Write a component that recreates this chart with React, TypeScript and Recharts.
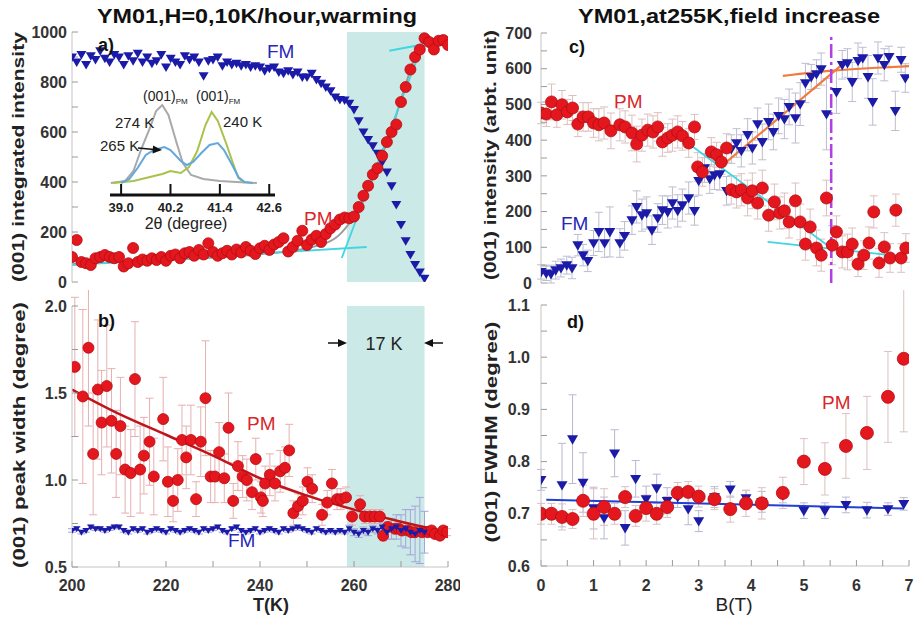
import React from 'react'
import {
  ComposedChart,
  Scatter,
  Line,
  XAxis,
  YAxis,
  ErrorBar,
  ReferenceArea,
  ReferenceLine,
} from 'recharts'

const FONT = '"Liberation Sans", Arial, Helvetica, sans-serif'
const RED = '#e3171d'
const RED_EDGE = '#b50d12'
const BLUE = '#1b1ba8'
const RED_ERR = '#e6b0b0'
const BLUE_ERR = '#a4a4da'
const CYAN = '#41d6e2'
const ORANGE = '#f07b3f'
const SHADE = '#cbe9e6'
const FRAME = '#c4c4c4'
const TICK = '#9a9a9a'
const LABEL_BLUE = '#2626b8'
const LABEL_RED = '#d9252b'

// ---- a) integrated intensity vs T ----
const aTempFM = [
  200, 201, 202, 203, 204, 205, 206, 207, 208, 209, 210, 211, 212, 213, 214, 215, 216, 217, 218, 219,
  220, 221, 222, 223, 224, 225, 226, 227, 228, 229, 230, 231, 232, 233, 234, 235, 236, 237, 238, 239,
  240, 241, 242, 243, 244, 245, 246, 247, 248, 249, 250, 251, 252, 253, 254, 255, 256, 257, 258, 259,
  260, 261, 262, 263, 264, 265, 266, 267, 268, 269, 270, 271, 272, 273, 274, 275,
]
const aIntFM = [
  900, 880, 910, 870, 905, 890, 925, 895, 880, 910, 900, 870, 905, 885, 915, 880, 900, 875, 885, 910,
  860, 895, 880, 870, 905, 890, 900, 880, 825, 885, 890, 900, 865, 880, 870, 875, 865, 870, 860, 865,
  860, 845, 855, 860, 840, 835, 845, 830, 840, 820, 820, 835, 810, 795, 780, 765, 740, 730, 728, 715,
  690, 645, 600, 570, 545, 515, 480, 440, 385, 310, 230, 165, 110, 70, 40, 15,
]
const aTempPM = [
  200, 201, 202, 203, 204, 205, 206, 207, 208, 209, 210, 211, 212, 213, 214, 215, 216, 217, 218, 219,
  220, 221, 222, 223, 224, 225, 226, 227, 228, 229, 230, 231, 232, 233, 234, 235, 236, 237, 238, 239,
  240, 241, 242, 243, 244, 245, 246, 247, 248, 249, 250, 251, 252, 253, 254, 255, 256, 257, 258, 259,
  260, 261, 262, 263, 264, 265, 266, 267, 268, 269, 270, 271, 272, 273, 274, 275, 276, 277, 278, 279, 280,
]
const aIntPM = [
  100, 168, 80, 75, 68, 95, 100, 108, 100, 95, 100, 62, 75, 136, 80, 90, 85, 95, 88, 100,
  85, 105, 110, 95, 115, 120, 105, 128, 110, 155, 120, 105, 115, 125, 110, 130, 118, 140, 125, 112,
  135, 145, 128, 150, 160, 175, 122, 140, 165, 205, 148, 170, 185, 160, 192, 215, 230, 250, 258, 255,
  262, 300, 345, 385, 430, 455, 505, 560, 600, 630, 720, 780, 850, 900, 930, 975, 960, 930, 965, 968, 948,
]
const aGrayT = [200, 220, 240, 250, 256, 259, 262, 265, 268, 271, 273, 275, 280]
const aGrayI = [72, 88, 112, 135, 175, 235, 330, 460, 610, 790, 900, 945, 955]
const aCyanLowT = [200, 262.7]
const aCyanLowI = [68, 140]
const aCyanSteepT = [257.4, 274.7]
const aCyanSteepI = [96, 956]
const aCyanTopT = [267.5, 276]
const aCyanTopI = [925, 955]
const shadeFrom = 258.5
const shadeTo = 275

// inset: peak profiles vs 2θ
const insetTicks = [39.0, 40.2, 41.4, 42.6]
const inset274X = [38.75, 39.1, 39.3, 39.5, 39.7, 39.85, 40.0, 40.15, 40.35, 40.5, 40.7, 41.0, 41.4, 41.8, 42.3]
const inset274Y = [0, 2, 12, 35, 55, 72, 78, 68, 40, 20, 8, 4, 2, 1, 0]
const inset265X = [39.0, 39.2, 39.4, 39.6, 39.8, 40.05, 40.2, 40.45, 40.6, 40.75, 40.95, 41.15, 41.35, 41.5, 41.7, 41.85, 42.0, 42.2]
const inset265Y = [0, 4, 15, 28, 33, 36, 33, 22, 18, 21, 30, 38, 40, 33, 18, 6, 1, 0]
const inset240X = [38.8, 39.3, 39.7, 40.0, 40.2, 40.45, 40.65, 40.85, 41.05, 41.2, 41.35, 41.55, 41.7, 41.85, 42.0]
const inset240Y = [0, 2, 6, 9, 12, 10, 16, 32, 58, 71, 62, 40, 22, 5, 0]

// ---- b) peak width vs T ----
const bTempPM = [
  200.6, 202.3, 203.5, 204.5, 205.5, 206.3, 207.4, 208.4, 209.4, 210.3, 211.3, 212.5, 213.4, 214.5, 215.3,
  216.5, 217.4, 219.4, 220.4, 221.5, 222.5, 223.4, 224.3, 225.3, 226.4, 227.4, 228.4, 229.5, 230.4, 231.3,
  232.4, 233.3, 234.3, 235.3, 236.3, 237.2, 238.3, 239.1, 240.2, 240.6, 241.1, 242.1, 243.2, 244.3, 245.3,
  246.2, 247.1, 248.1, 249.1, 250.1, 251.1, 253.2, 254.3, 255.3, 256.4, 257.2, 258.3, 259.6, 261.3, 262.3,
  263.4, 264.4, 265.5, 266.2, 267.2, 268.7, 269.5, 270.2, 271.5, 272.2, 273.0, 274.5, 275.7, 276.5, 277.2,
  278.3, 279.0, 279.8,
]
const bWidthPM = [
  1.65, 1.48, 1.76, 1.15, 1.52, 1.33, 1.54, 1.34, 1.15, 1.31, 1.06, 1.04, 1.58, 1.06, 1.14,
  1.22, 1.02, 1.35, 0.99, 0.88, 1.0, 1.23, 1.13, 1.23, 0.89, 1.22, 1.47, 1.02, 1.02, 1.16,
  1.01, 1.3, 0.88, 1.08, 1.02, 1.0, 0.93, 1.12, 0.9, 0.88, 0.98, 1.03, 0.98, 1.05, 1.07,
  1.17, 0.81, 0.85, 0.88, 0.99, 0.95, 0.8, 0.87, 0.98, 0.89, 0.89, 0.9, 0.79, 0.86, 0.79,
  0.79, 0.79, 0.79, 0.68, 0.73, 0.72, 0.72, 0.71, 0.71, 0.7, 0.7, 0.7, 0.7, 0.71, 0.69,
  0.68, 0.71, 0.7,
]
const bErrPM = [
  0.4, 0.5, 0.45, 0.35, 0.4, 0.3, 0.35, 0.3, 0.25, 0.28, 0.25, 0.25, 0.33, 0.25, 0.22,
  0.25, 0.22, 0.24, 0.2, 0.12, 0.18, 0.2, 0.18, 0.2, 0.1, 0.2, 0.33, 0.15, 0.15, 0.17,
  0.14, 0.2, 0.1, 0.14, 0.12, 0.12, 0.1, 0.12, 0.09, 0.09, 0.1, 0.12, 0.1, 0.12, 0.12,
  0.15, 0.07, 0.07, 0.08, 0.08, 0.08, 0.06, 0.07, 0.08, 0.06, 0.06, 0.06, 0.05, 0.05, 0.04,
  0.04, 0.04, 0.04, 0.03, 0.03, 0.03, 0.03, 0.03, 0.02, 0.02, 0.02, 0.02, 0.02, 0.02, 0.02,
  0.02, 0.02, 0.02,
]
const bTempFM = aTempFM
const bWidthFM = [
  0.71, 0.72, 0.7, 0.71, 0.73, 0.72, 0.72, 0.71, 0.72, 0.73, 0.73, 0.71, 0.7, 0.72, 0.71, 0.72, 0.7, 0.71, 0.72, 0.71,
  0.7, 0.72, 0.71, 0.7, 0.71, 0.72, 0.71, 0.7, 0.72, 0.71, 0.72, 0.73, 0.71, 0.7, 0.72, 0.73, 0.71, 0.7, 0.71, 0.72,
  0.7, 0.71, 0.72, 0.71, 0.7, 0.72, 0.71, 0.72, 0.73, 0.72, 0.71, 0.7, 0.72, 0.71, 0.7, 0.71, 0.7, 0.71, 0.7, 0.72,
  0.7, 0.69, 0.71, 0.7, 0.72, 0.71, 0.73, 0.7, 0.72, 0.73, 0.71, 0.72, 0.7, 0.69, 0.71, 0.7,
]
const bErrFM = [
  0.01, 0.01, 0.01, 0.01, 0.01, 0.01, 0.01, 0.01, 0.01, 0.01, 0.01, 0.01, 0.01, 0.01, 0.01, 0.01, 0.01, 0.01, 0.01, 0.01,
  0.01, 0.01, 0.01, 0.01, 0.01, 0.01, 0.01, 0.01, 0.01, 0.01, 0.01, 0.01, 0.01, 0.01, 0.01, 0.01, 0.01, 0.01, 0.01, 0.01,
  0.01, 0.01, 0.01, 0.01, 0.01, 0.01, 0.01, 0.01, 0.01, 0.01, 0.01, 0.01, 0.01, 0.01, 0.01, 0.01, 0.01, 0.01, 0.01, 0.02,
  0.02, 0.02, 0.02, 0.02, 0.02, 0.02, 0.03, 0.04, 0.06, 0.07, 0.09, 0.11, 0.13, 0.16, 0.19, 0.12,
]
const bFitT = [200, 210, 220, 230, 240, 250, 260, 270, 280]
const bFitW = [1.52, 1.38, 1.26, 1.14, 1.01, 0.91, 0.83, 0.76, 0.7]

// ---- c) intensity vs B ----
const cFieldPM = [
  0, 0.1, 0.2, 0.3, 0.4, 0.5, 0.6, 0.7, 0.8, 0.9, 1.0, 1.1, 1.2, 1.33, 1.5, 1.6, 1.73, 1.82, 1.92, 2.03,
  2.13, 2.22, 2.31, 2.41, 2.5, 2.6, 2.69, 2.81, 2.92, 2.98, 3.07, 3.24, 3.34, 3.43, 3.53, 3.62, 3.72, 3.81, 3.93, 4.02,
  4.12, 4.21, 4.33, 4.44, 4.54, 4.63, 4.72, 4.84, 4.93, 5.03, 5.12, 5.24, 5.33, 5.43, 5.54, 5.62, 5.73, 5.83, 5.92, 6.03,
  6.14, 6.24, 6.33, 6.43, 6.53, 6.64, 6.75, 6.85, 6.94,
]
const cIntPM = [
  476, 473, 507, 471, 499, 479, 490, 445, 465, 465, 448, 443, 448, 426, 443, 437, 420, 389, 414, 428,
  423, 437, 395, 406, 414, 423, 412, 392, 437, 325, 311, 367, 359, 339, 378, 261, 255, 261, 238, 258,
  224, 266, 190, 227, 196, 202, 171, 230, 171, 109, 157, 98, 78, 238, 106, 143, 87, 87, 109, 53,
  78, 112, 199, 56, 101, 70, 204, 70, 98,
]
const cErrPM = [
  30, 35, 50, 35, 40, 35, 35, 35, 40, 40, 40, 45, 45, 50, 45, 45, 50, 50, 45, 45,
  45, 40, 40, 40, 45, 45, 40, 40, 35, 40, 40, 40, 35, 35, 40, 40, 45, 45, 50, 50,
  45, 50, 45, 50, 45, 50, 45, 50, 50, 45, 50, 50, 45, 50, 55, 45, 45, 50, 45, 35,
  40, 45, 45, 40, 40, 40, 45, 40, 40,
]
const cFieldFM = [
  0, 0.1, 0.19, 0.28, 0.38, 0.49, 0.59, 0.7, 0.8, 0.89, 1.0, 1.1, 1.21, 1.31, 1.5, 1.59, 1.73, 1.82, 1.92, 2.01,
  2.11, 2.22, 2.31, 2.41, 2.5, 2.6, 2.69, 2.81, 2.92, 3.0, 3.11, 3.21, 3.3, 3.4, 3.53, 3.62, 3.72, 3.81, 3.93, 4.02,
  4.12, 4.21, 4.33, 4.42, 4.52, 4.63, 4.72, 4.84, 4.93, 5.03, 5.14, 5.24, 5.33, 5.43, 5.62, 5.73, 5.83, 5.92, 6.03, 6.12,
  6.22, 6.31, 6.41, 6.53, 6.62, 6.74, 6.85, 6.93,
]
const cIntFM = [
  31, 27, 25, 36, 42, 50, 42, 106, 78, 62, 112, 143, 112, 143, 112, 132, 176, 213, 190, 196,
  148, 182, 204, 199, 224, 202, 218, 238, 202, 286, 322, 291, 302, 305, 258, 375, 392, 370, 415, 378,
  445, 395, 451, 423, 468, 459, 493, 462, 501, 560, 577, 585, 599, 473, 535, 611, 616, 563, 622, 630,
  577, 507, 630, 611, 633, 482, 625, 574,
]
const cErrFM = [
  20, 20, 25, 25, 25, 25, 30, 30, 30, 30, 35, 55, 40, 70, 40, 40, 40, 45, 45, 45,
  40, 40, 40, 45, 45, 45, 45, 45, 40, 40, 40, 40, 40, 45, 40, 40, 40, 45, 45, 45,
  45, 50, 50, 50, 50, 55, 50, 70, 60, 55, 35, 40, 45, 100, 60, 40, 40, 55, 50, 30,
  60, 65, 45, 45, 30, 55, 35, 40,
]
const cCyanAB = [2.79, 5.52]
const cCyanAI = [392, 98]
const cCyanBB = [4.31, 6.96]
const cCyanBI = [115, 73]
const cOrangeAB = [3.53, 5.83]
const cOrangeAI = [339, 624]
const cOrangeBB = [4.6, 5.5, 6.3, 7.0]
const cOrangeBI = [580, 594, 602, 607]
const cCritField = 5.52

// ---- d) FWHM vs B ----
const dFieldPM = [0, 0.2, 0.4, 0.6, 0.8, 1.0, 1.2, 1.4, 1.6, 1.8, 2.0, 2.2, 2.4, 2.6, 2.8, 3.0, 3.3, 3.6, 3.9, 4.2, 4.6, 5.0, 5.4, 5.8, 6.2, 6.6, 6.9]
const dWidthPM = [0.7, 0.7, 0.694, 0.69, 0.725, 0.7, 0.713, 0.7, 0.732, 0.696, 0.711, 0.7, 0.713, 0.74, 0.742, 0.733, 0.728, 0.709, 0.72, 0.72, 0.74, 0.8, 0.786, 0.83, 0.855, 0.924, 0.997]
const dErrPM = [0.02, 0.02, 0.025, 0.018, 0.03, 0.048, 0.035, 0.02, 0.02, 0.02, 0.025, 0.02, 0.02, 0.02, 0.02, 0.02, 0.02, 0.025, 0.025, 0.03, 0.03, 0.044, 0.05, 0.062, 0.07, 0.087, 0.14]
const dFieldFM = [0, 0.4, 0.6, 0.8, 1.0, 1.2, 1.4, 1.6, 1.8, 2.0, 2.2, 2.4, 2.6, 2.8, 3.0, 3.3, 3.6, 3.9, 4.2, 4.6, 5.0, 5.4, 5.8, 6.2, 6.6, 6.9]
const dWidthFM = [0.765, 0.755, 0.843, 0.76, 0.711, 0.692, 0.816, 0.673, 0.767, 0.728, 0.749, 0.725, 0.732, 0.709, 0.686, 0.732, 0.747, 0.73, 0.723, 0.736, 0.706, 0.706, 0.717, 0.707, 0.709, 0.719]
const dErrFM = [0.02, 0.08, 0.085, 0.057, 0.04, 0.04, 0.045, 0.033, 0.035, 0.025, 0.027, 0.025, 0.02, 0.03, 0.02, 0.02, 0.015, 0.015, 0.02, 0.015, 0.015, 0.015, 0.015, 0.015, 0.012, 0.012]
const dFitB = [0.1, 6.9]
const dFitW = [0.727, 0.71]

// tick positions
const aXTicks = [200, 210, 220, 230, 240, 250, 260, 270, 280]
const aYTicks = [0, 100, 200, 300, 400, 500, 600, 700, 800, 900, 1000]
const bYTicks = [0.5, 0.75, 1.0, 1.25, 1.5, 1.75, 2.0]
const cXTicks = [0, 0.5, 1, 1.5, 2, 2.5, 3, 3.5, 4, 4.5, 5, 5.5, 6, 6.5, 7]
const cYTicks = [0, 50, 100, 150, 200, 250, 300, 350, 400, 450, 500, 550, 600, 650, 700]
const dYTicks = [0.6, 0.65, 0.7, 0.75, 0.8, 0.85, 0.9, 0.95, 1.0, 1.05, 1.1]

const pts = (xs: number[], ys: number[], es?: number[]) =>
  xs.map((x, i) => ({ x, y: ys[i], e: es ? es[i] : 0 }))

const dot = (r: number) => (p: any) =>
  p.cx == null ? <g /> : <circle cx={p.cx} cy={p.cy} r={r} fill={RED} stroke={RED_EDGE} strokeWidth={0.8} />

const tri = (s: number) => (p: any) =>
  p.cx == null ? (
    <g />
  ) : (
    <polygon
      points={`${p.cx - s},${p.cy - s * 0.7} ${p.cx + s},${p.cy - s * 0.7} ${p.cx},${p.cy + s}`}
      fill={BLUE}
    />
  )

const everyN = (step: number) => (v: number) =>
  Math.abs(v / step - Math.round(v / step)) < 1e-6 ? String(v) : ''
const everyN1 = (step: number) => (v: number) =>
  Math.abs(v / step - Math.round(v / step)) < 1e-6 ? v.toFixed(1) : ''

const tickText = { fontSize: 16, fontWeight: 700, fill: '#333' }
const ax = {
  type: 'number' as const,
  allowDataOverflow: true,
  axisLine: { stroke: FRAME },
  tickLine: { stroke: TICK },
  tickSize: -6,
  interval: 0 as const,
}

function fitLine(xs: number[], ys: number[], color: string, width: number, kind: any = 'linear') {
  return (
    <Line
      data={pts(xs, ys)}
      dataKey="y"
      type={kind}
      stroke={color}
      strokeWidth={width}
      dot={false}
      activeDot={false}
      isAnimationActive={false}
    />
  )
}

export default function App() {
  return (
    <div style={{ position: 'absolute', left: 0, top: 0, width: 914, height: 622, background: '#fff', fontFamily: FONT }}>
      {/* a) */}
      <div style={{ position: 'absolute', left: 0, top: 0 }}>
        <ComposedChart width={460} height={300} margin={{ top: 32, right: 12, bottom: 18, left: 22 }}>
          <XAxis {...ax} dataKey="x" domain={[200, 280]} ticks={aXTicks} tick={false} height={0} />
          <XAxis {...ax} xAxisId="top" orientation="top" domain={[200, 280]} ticks={aXTicks} tick={false} height={0} />
          <YAxis {...ax} domain={[0, 1000]} ticks={aYTicks} tickFormatter={everyN(200)} width={50} tick={tickText} tickMargin={11} />
          <YAxis {...ax} yAxisId="right" orientation="right" domain={[0, 1000]} ticks={aYTicks} tick={false} width={0} />
          <ReferenceArea x1={shadeFrom} x2={shadeTo} y1={0} y2={1000} fill={SHADE} fillOpacity={1} stroke="none" />
          <Scatter data={pts(aTempFM, aIntFM)} dataKey="y" shape={tri(5)} isAnimationActive={false} />
          <Scatter data={pts(aTempPM, aIntPM)} dataKey="y" shape={dot(5.5)} isAnimationActive={false} />
          {fitLine(aGrayT, aGrayI, '#9c9c9c', 2, 'monotone')}
          {fitLine(aCyanLowT, aCyanLowI, CYAN, 1.8)}
          {fitLine(aCyanSteepT, aCyanSteepI, CYAN, 1.8)}
          {fitLine(aCyanTopT, aCyanTopI, CYAN, 1.8)}
        </ComposedChart>
      </div>

      {/* inset of a) */}
      <div style={{ position: 'absolute', left: 100, top: 85 }}>
        <ComposedChart width={185} height={135} margin={{ top: 8, right: 10, bottom: 0, left: 10 }}>
          <XAxis
            dataKey="x"
            type="number"
            domain={[38.73, 42.74]}
            allowDataOverflow
            ticks={insetTicks}
            interval={0}
            tickFormatter={(v: number) => v.toFixed(1)}
            height={25}
            axisLine={{ stroke: '#111', strokeWidth: 3 }}
            tickLine={{ stroke: '#111', strokeWidth: 2 }}
            tickSize={-11}
            tickMargin={19}
            tick={{ fontSize: 13, fontWeight: 700, fill: '#222' }}
          />
          <YAxis type="number" domain={[-12, 90]} allowDataOverflow hide />
          {fitLine(inset274X, inset274Y, '#a9a9a9', 2)}
          {fitLine(inset240X, inset240Y, '#a8c24a', 2)}
          {fitLine(inset265X, inset265Y, '#63a8dc', 2)}
        </ComposedChart>
      </div>

      {/* b) */}
      <div style={{ position: 'absolute', left: 0, top: 290 }}>
        <ComposedChart width={460} height={332} margin={{ top: 16, right: 12, bottom: 25, left: 22 }}>
          <XAxis {...ax} dataKey="x" domain={[200, 280]} ticks={aXTicks} tickFormatter={everyN(20)} height={30} tick={tickText} tickMargin={19} />
          <XAxis {...ax} xAxisId="top" orientation="top" domain={[200, 280]} ticks={aXTicks} tick={false} height={0} />
          <YAxis {...ax} domain={[0.5, 2.0]} ticks={bYTicks} tickFormatter={everyN1(0.5)} width={50} tick={tickText} tickMargin={11} />
          <YAxis {...ax} yAxisId="right" orientation="right" domain={[0.5, 2.0]} ticks={bYTicks} tick={false} width={0} />
          <ReferenceArea x1={shadeFrom} x2={shadeTo} y1={0.5} y2={2.0} fill={SHADE} fillOpacity={1} stroke="none" />
          <Scatter data={pts(bTempPM, bWidthPM, bErrPM)} dataKey="y" shape={dot(5.5)} isAnimationActive={false}>
            <ErrorBar dataKey="e" direction="y" width={4} stroke={RED_ERR} strokeWidth={1} />
          </Scatter>
          <Scatter
            data={pts(bTempFM, bWidthFM, bErrFM)}
            dataKey="y"
            shape={tri(3.5)}
            line={{ stroke: BLUE, strokeWidth: 1.6 }}
            lineType="joint"
            isAnimationActive={false}
          >
            <ErrorBar dataKey="e" direction="y" width={4} stroke={BLUE_ERR} strokeWidth={1} />
          </Scatter>
          {fitLine(bFitT, bFitW, '#c0141b', 2.5, 'monotone')}
        </ComposedChart>
      </div>

      {/* c) */}
      <div style={{ position: 'absolute', left: 455, top: 0 }}>
        <ComposedChart width={459} height={300} margin={{ top: 33, right: 5, bottom: 17, left: 36 }}>
          <XAxis {...ax} dataKey="x" domain={[0, 7]} ticks={cXTicks} tick={false} height={0} />
          <XAxis {...ax} xAxisId="top" orientation="top" domain={[0, 7]} ticks={cXTicks} tick={false} height={0} />
          <YAxis {...ax} domain={[0, 700]} ticks={cYTicks} tickFormatter={everyN(100)} width={50} tick={tickText} tickMargin={15} />
          <YAxis {...ax} yAxisId="right" orientation="right" domain={[0, 700]} ticks={cYTicks} tick={false} width={0} />
          <Scatter data={pts(cFieldFM, cIntFM, cErrFM)} dataKey="y" shape={tri(5.5)} isAnimationActive={false}>
            <ErrorBar dataKey="e" direction="y" width={4} stroke="#bdbdd0" strokeWidth={1} />
          </Scatter>
          <Scatter data={pts(cFieldPM, cIntPM, cErrPM)} dataKey="y" shape={dot(6)} isAnimationActive={false}>
            <ErrorBar dataKey="e" direction="y" width={4} stroke="#dcc0c0" strokeWidth={1} />
          </Scatter>
          {fitLine(cCyanAB, cCyanAI, CYAN, 1.8)}
          {fitLine(cCyanBB, cCyanBI, CYAN, 1.8)}
          {fitLine(cOrangeAB, cOrangeAI, ORANGE, 2.2)}
          {fitLine(cOrangeBB, cOrangeBI, ORANGE, 2.2, 'monotone')}
          <ReferenceLine x={cCritField} stroke="#b23ee6" strokeWidth={2.5} strokeDasharray="14 4 3 4" />
        </ComposedChart>
      </div>

      {/* d) */}
      <div style={{ position: 'absolute', left: 455, top: 290 }}>
        <ComposedChart width={459} height={332} margin={{ top: 15, right: 5, bottom: 26, left: 36 }}>
          <XAxis {...ax} dataKey="x" domain={[0, 7]} ticks={cXTicks} tickFormatter={everyN(1)} height={30} tick={tickText} tickMargin={20} />
          <XAxis {...ax} xAxisId="top" orientation="top" domain={[0, 7]} ticks={cXTicks} tick={false} height={0} />
          <YAxis {...ax} domain={[0.6, 1.1]} ticks={dYTicks} tickFormatter={everyN1(0.1)} width={50} tick={tickText} tickMargin={17} />
          <YAxis {...ax} yAxisId="right" orientation="right" domain={[0.6, 1.1]} ticks={dYTicks} tick={false} width={0} />
          <Scatter data={pts(dFieldFM, dWidthFM, dErrFM)} dataKey="y" shape={tri(5.5)} isAnimationActive={false}>
            <ErrorBar dataKey="e" direction="y" width={4} stroke="#b8b8d4" strokeWidth={1} />
          </Scatter>
          <Scatter data={pts(dFieldPM, dWidthPM, dErrPM)} dataKey="y" shape={dot(6.5)} isAnimationActive={false}>
            <ErrorBar dataKey="e" direction="y" width={4} stroke="#dcc0c0" strokeWidth={1} />
          </Scatter>
          {fitLine(dFitB, dFitW, '#1f3fd6', 2)}
        </ComposedChart>
      </div>

      {/* titles, axis titles and annotations */}
      <svg width={914} height={622} style={{ position: 'absolute', left: 0, top: 0, pointerEvents: 'none' }}>
        <g fontWeight="bold" fill="#111">
          <text x={97} y={23} fontSize={21} textLength={320} lengthAdjust="spacingAndGlyphs">YM01,H=0,10K/hour,warming</text>
          <text x={578} y={23} fontSize={21} textLength={302} lengthAdjust="spacingAndGlyphs">YM01,at255K,field increase</text>
        </g>
        <g fontWeight="bold" fill="#222" fontSize={17}>
          <text transform="translate(24,157) rotate(-90)" textAnchor="middle" textLength={250} lengthAdjust="spacingAndGlyphs">(001) integrated intensity</text>
          <text transform="translate(25,435) rotate(-90)" textAnchor="middle" textLength={266} lengthAdjust="spacingAndGlyphs">(001) peak width (degree)</text>
          <text transform="translate(496,155) rotate(-90)" textAnchor="middle" textLength={250} lengthAdjust="spacingAndGlyphs">(001) intensity (arbt. unit)</text>
          <text transform="translate(497,432) rotate(-90)" textAnchor="middle" textLength={221} lengthAdjust="spacingAndGlyphs">(001) FWHM (degree)</text>
          <text x={271} y={611} fontSize={18} textAnchor="middle">T(K)</text>
        </g>
        <text x={734} y={611} fontSize={19} textAnchor="middle" fill="#222">B(T)</text>

        <g fontWeight="bold" fontSize={18} fill="#111">
          <text x={98} y={51}>a)</text>
          <text x={98} y={327}>b)</text>
          <text x={569} y={53}>c)</text>
          <text x={567} y={328}>d)</text>
        </g>

        <g fontSize={19}>
          <text x={267} y={58} fill={LABEL_BLUE}>FM</text>
          <text x={304} y={225} fill={LABEL_RED}>PM</text>
          <text x={247} y={430} fill={LABEL_RED}>PM</text>
          <text x={228} y={547} fill={LABEL_BLUE}>FM</text>
          <text x={614} y={108} fill={LABEL_RED}>PM</text>
          <text x={561} y={230} fill={LABEL_BLUE}>FM</text>
          <text x={822} y={409} fill={LABEL_RED}>PM</text>
        </g>

        {/* 17 K transition width */}
        <text x={384} y={350} fontSize={18} textAnchor="middle" fill="#222">17 K</text>
        <line x1={328} y1={343} x2={340} y2={343} stroke="#111" strokeWidth={1.5} />
        <polygon points="347,343 338,339 338,347" fill="#111" />
        <line x1={443} y1={343} x2={431} y2={343} stroke="#111" strokeWidth={1.5} />
        <polygon points="424,343 433,339 433,347" fill="#111" />

        {/* inset labels */}
        <g fill="#222">
          <text x={143} y={101} fontSize={14}>(001)<tspan fontSize={8} dy={3}>PM</tspan></text>
          <text x={196} y={101} fontSize={14}>(001)<tspan fontSize={8} dy={3}>FM</tspan></text>
          <text x={115} y={128} fontSize={15}>274 K</text>
          <text x={223} y={127} fontSize={15}>240 K</text>
          <text x={100} y={151} fontSize={15}>265 K</text>
          <text x={186} y={229} fontSize={16} textAnchor="middle">2θ (degree)</text>
        </g>
        <line x1={138} y1={148} x2={154} y2={149.5} stroke="#111" strokeWidth={1.5} />
        <polygon points="162,150 153,145.5 152.5,153.5" fill="#111" />
      </svg>
    </div>
  )
}
